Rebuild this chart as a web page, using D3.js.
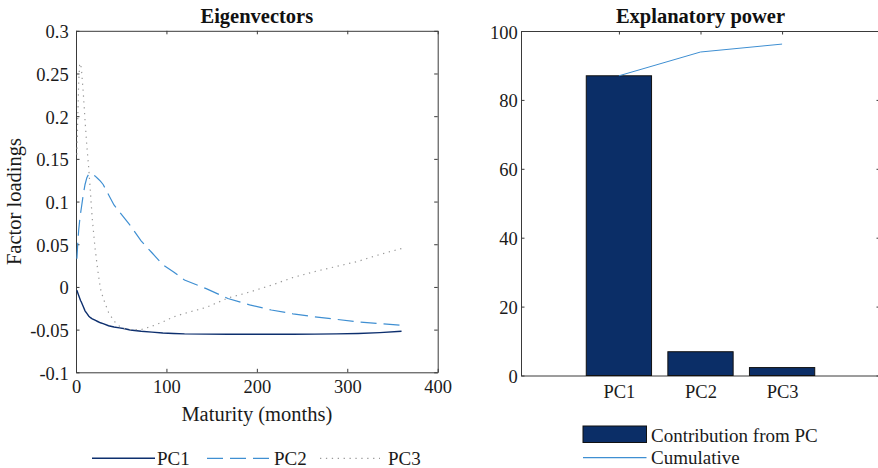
<!DOCTYPE html>
<html lang="en">
<head>
<meta charset="UTF-8">
<title>Eigenvectors and explanatory power</title>
<script src="https://d3js.org/d3.v7.min.js"></script>
<style>
  body { margin: 0; background: #fff; }
  svg { display: block; font-family: "Liberation Serif", "Times New Roman", serif; }
  .tick text { font-family: "Liberation Serif", "Times New Roman", serif; font-size: 18.5px; fill: #1a1a1a; }
  .axis path, .axis line { stroke: #3a3a3a; }
  .title { font-size: 20.5px; font-weight: bold; fill: #111; }
  .label { font-size: 20.5px; fill: #1a1a1a; }
  .legend { font-size: 19px; fill: #1a1a1a; }
</style>
</head>
<body>
<div id="chart"></div>
<script>
// maturities in months
const maturities = [1, 2, 3, 4, 5, 6, 8, 10, 12, 14, 16, 18, 21, 24, 27, 30, 36, 42, 48, 54, 60,
  72, 84, 96, 108, 120, 144, 168, 192, 216, 240, 264, 288, 312, 336, 360];

const pc1 = [-0.004, -0.007, -0.010, -0.013, -0.016, -0.018, -0.023, -0.028, -0.031, -0.034, -0.036,
  -0.0375, -0.039, -0.0405, -0.042, -0.043, -0.0455, -0.047, -0.048, -0.049, -0.0505,
  -0.052, -0.053, -0.054, -0.0545, -0.055, -0.0553, -0.0555, -0.0555, -0.0555, -0.0555,
  -0.0553, -0.055, -0.0545, -0.0535, -0.052];

const pc2 = [0.033, 0.052, 0.067, 0.077, 0.086, 0.093, 0.108, 0.120, 0.128, 0.132, 0.133,
  0.132, 0.130, 0.127, 0.124, 0.120, 0.108, 0.096, 0.088, 0.080, 0.072,
  0.054, 0.040, 0.026, 0.0175, 0.008, -0.002, -0.0135, -0.021, -0.027, -0.0315,
  -0.035, -0.038, -0.041, -0.043, -0.045];

const pc3 = [0.155, 0.200, 0.240, 0.260, 0.262, 0.255, 0.228, 0.195, 0.165, 0.140, 0.110,
  0.080, 0.046, 0.020, -0.002, -0.013, -0.030, -0.040, -0.046, -0.049, -0.050,
  -0.050, -0.046, -0.041, -0.035, -0.031, -0.024, -0.013, -0.006, 0.002, 0.011,
  0.018, 0.024, 0.030, 0.038, 0.045];

const xTicksLeft = [0, 100, 200, 300, 400];
const yTicksLeft = [-0.1, -0.05, 0, 0.05, 0.1, 0.15, 0.2, 0.25, 0.3];

// explanatory power, percent
const pcNames = ["PC1", "PC2", "PC3"];
const contribution = [87.0, 6.9, 2.3];
const cumulative = Array.from(d3.cumsum(contribution));
const yTicksRight = [0, 20, 40, 60, 80, 100];

const width = 878, height = 468;
const tickLen = 3.5;

const svg = d3.select("#chart").append("svg")
  .attr("width", width)
  .attr("height", height);

// ---------- left panel: eigenvectors ----------
const L = {left: 76, right: 437.7, top: 30.8, bottom: 372.3};

const x = d3.scaleLinear().domain([0, 400]).range([L.left, L.right]);
const y = d3.scaleLinear().domain([-0.1, 0.3]).range([L.bottom, L.top]);
const fmt = d => String(+d.toFixed(2));

svg.append("g").attr("class", "axis")
  .attr("transform", `translate(0,${L.bottom})`)
  .call(d3.axisBottom(x).tickValues(xTicksLeft).tickSizeInner(-tickLen).tickSizeOuter(0).tickPadding(8));
svg.append("g").attr("class", "axis")
  .attr("transform", `translate(0,${L.top})`)
  .call(d3.axisTop(x).tickValues(xTicksLeft).tickSizeInner(-tickLen).tickSizeOuter(0).tickFormat(""));
svg.append("g").attr("class", "axis")
  .attr("transform", `translate(${L.left},0)`)
  .call(d3.axisLeft(y).tickValues(yTicksLeft).tickFormat(fmt).tickSizeInner(-tickLen).tickSizeOuter(0).tickPadding(7.3))
  .selectAll("text").attr("dy", "0.38em");
svg.append("g").attr("class", "axis")
  .attr("transform", `translate(${L.right},0)`)
  .call(d3.axisRight(y).tickValues(yTicksLeft).tickSizeInner(-tickLen).tickSizeOuter(0).tickFormat(""));

const series = [
  {name: "PC1", values: pc1, color: "#0d2f6e", dash: null, w: 1.4},
  {name: "PC2", values: pc2, color: "#3f8fd2", dash: "16,7", w: 1.2},
  {name: "PC3", values: pc3, color: "#9a9a9a", dash: "1.3,4.6", w: 1.2}
];

const line = d3.line()
  .x((d, i) => x(maturities[i]))
  .y(d => y(d));

series.forEach(s => {
  svg.append("path")
    .datum(s.values)
    .attr("fill", "none")
    .attr("stroke", s.color)
    .attr("stroke-width", s.w)
    .attr("stroke-dasharray", s.dash)
    .attr("d", line);
});

svg.append("text").attr("class", "title")
  .attr("x", (L.left + L.right) / 2).attr("y", 22.7)
  .attr("text-anchor", "middle").text("Eigenvectors");
svg.append("text").attr("class", "label")
  .attr("x", (L.left + L.right) / 2).attr("y", 421)
  .attr("text-anchor", "middle").text("Maturity (months)");
svg.append("text").attr("class", "label")
  .attr("transform", `translate(21,${(L.top + L.bottom) / 2}) rotate(-90)`)
  .attr("text-anchor", "middle").text("Factor loadings");

// legend under left panel
const legLeft = [{x0: 92, x1: 155, tx: 157}, {x0: 207, x1: 269, tx: 274}, {x0: 320, x1: 380, tx: 388}];
series.forEach((s, i) => {
  const p = legLeft[i];
  svg.append("line")
    .attr("x1", p.x0).attr("x2", p.x1).attr("y1", 458.3).attr("y2", 458.3)
    .attr("stroke", s.color).attr("stroke-width", s.w)
    .attr("stroke-dasharray", s.dash);
  svg.append("text").attr("class", "legend")
    .attr("x", p.tx).attr("y", 465).text(s.name);
});

// ---------- right panel: explanatory power ----------
const R = {left: 521, right: 880, top: 31, bottom: 375.5};

const xr = d3.scaleLinear().domain([-0.2, 4.2]).range([R.left, R.right]);
const yr = d3.scaleLinear().domain([0, 100]).range([R.bottom, R.top]);
const pos = pcNames.map((d, i) => i + 1);

svg.append("g").attr("class", "axis")
  .attr("transform", `translate(0,${R.bottom})`)
  .call(d3.axisBottom(xr).tickValues(pos).tickFormat((d, i) => pcNames[i])
    .tickSizeInner(-tickLen).tickSizeOuter(0).tickPadding(9.7));
svg.append("g").attr("class", "axis")
  .attr("transform", `translate(0,${R.top})`)
  .call(d3.axisTop(xr).tickValues(pos).tickSizeInner(-tickLen).tickSizeOuter(0).tickFormat(""));
svg.append("g").attr("class", "axis")
  .attr("transform", `translate(${R.left},0)`)
  .call(d3.axisLeft(yr).tickValues(yTicksRight).tickSizeInner(-tickLen).tickSizeOuter(0).tickPadding(3.3))
  .selectAll("text").attr("dy", "0.38em");
svg.append("g").attr("class", "axis")
  .attr("transform", `translate(${R.right},0)`)
  .call(d3.axisRight(yr).tickValues(yTicksRight).tickSizeInner(-tickLen).tickSizeOuter(0).tickFormat(""));

const barW = xr(0.8) - xr(0);
svg.selectAll("rect.bar")
  .data(contribution)
  .join("rect")
  .attr("class", "bar")
  .attr("x", (d, i) => xr(pos[i]) - barW / 2)
  .attr("y", d => yr(d))
  .attr("width", barW)
  .attr("height", d => yr(0) - yr(d))
  .attr("fill", "#0b2e67")
  .attr("stroke", "#111")
  .attr("stroke-width", 1);

svg.append("path")
  .datum(cumulative)
  .attr("fill", "none")
  .attr("stroke", "#3f8fd2")
  .attr("stroke-width", 1)
  .attr("d", d3.line().x((d, i) => xr(pos[i])).y(d => yr(d)));

svg.append("text").attr("class", "title")
  .attr("x", (R.left + R.right) / 2).attr("y", 22.7)
  .attr("text-anchor", "middle").text("Explanatory power");

// legend under right panel
svg.append("rect")
  .attr("x", 583).attr("y", 426).attr("width", 63.5).attr("height", 16.5)
  .attr("fill", "#0b2e67").attr("stroke", "#111").attr("stroke-width", 1);
svg.append("text").attr("class", "legend")
  .attr("x", 651).attr("y", 441.5).text("Contribution from PC");
svg.append("line")
  .attr("x1", 583).attr("x2", 646.5).attr("y1", 457.7).attr("y2", 457.7)
  .attr("stroke", "#3f8fd2").attr("stroke-width", 1.2);
svg.append("text").attr("class", "legend")
  .attr("x", 651).attr("y", 463.5).text("Cumulative");
</script>
</body>
</html>
